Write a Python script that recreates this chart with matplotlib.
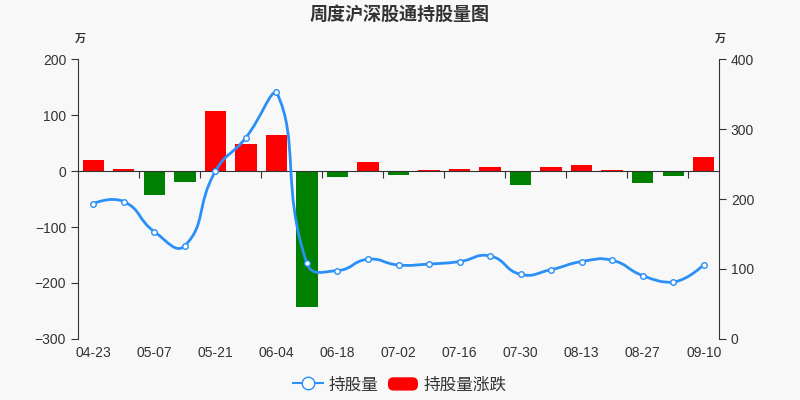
import numpy as np
import matplotlib.pyplot as plt
from matplotlib.path import Path
from matplotlib.patches import PathPatch, FancyBboxPatch
from matplotlib.lines import Line2D
from matplotlib.legend_handler import HandlerPatch

plt.rcParams['font.family'] = ['Noto Sans CJK SC', 'DejaVu Sans']

dates = ['04-23', '04-30', '05-07', '05-14', '05-21', '05-28', '06-04',
         '06-11', '06-18', '06-25', '07-02', '07-09', '07-16', '07-23',
         '07-30', '08-06', '08-13', '08-20', '08-27', '09-03', '09-10']
holding = [193.4, 196.3, 153.4, 133.4, 239.6, 287.7, 352.9, 108.1, 97.7,
           113.9, 105.7, 107.1, 110.6, 118.6, 92.4, 99.1, 110.6, 112.4,
           90.6, 81.0, 106.3]
change = [20, 3, -42, -19, 106.5, 47.6, 64.8, -243, -10, 16, -7, 1.5, 3.5,
          8, -25, 6.5, 10.5, 2.5, -21, -8.5, 25]
label_every = 2

BG = '#f8f8f8'
TXT = '#333333'
LINE = '#2a8ff7'
NUM_FONT = ['Liberation Sans', 'DejaVu Sans']


def smooth_path(xs, ys, sx, sy, smooth=0.5):
    # bezier smoothing, control points clamped to the bounding box of the line
    p = np.column_stack([np.asarray(xs, float) * sx, np.asarray(ys, float) * sy])
    n = len(p)
    lo, hi = p.min(axis=0), p.max(axis=0)
    verts = [p[0].copy()]
    codes = [Path.MOVETO]
    cp0 = p[0].copy()
    for k in range(1, n):
        cur = p[k]
        prev = p[k - 1]
        if k == n - 1:
            cp1 = cur.copy()
            v = np.zeros(2)
            r = 0.5
        else:
            nxt = p[k + 1]
            v = nxt - prev
            d0 = np.hypot(*(cur - prev))
            d1 = np.hypot(*(nxt - cur))
            r = d1 / (d0 + d1)
            cp1 = cur - v * smooth * (1 - r)
        cp0 = np.clip(cp0, lo, hi)
        cp1 = np.clip(cp1, lo, hi)
        verts += [cp0, cp1, cur.copy()]
        codes += [Path.CURVE4] * 3
        cp0 = cur + v * smooth * r
    verts = np.array(verts) / np.array([sx, sy])
    return Path(verts, codes)


fig = plt.figure(figsize=(8, 4), dpi=100, facecolor=BG)
ax = fig.add_axes([78 / 800, 61 / 400, 641 / 800, 280 / 400])
ax.set_facecolor(BG)
ax2 = ax.twinx()

x = np.arange(len(dates))
colors = ['#ff0000' if v >= 0 else '#008000' for v in change]
ax.bar(x, change, width=0.7, color=colors, zorder=2)
ax.set_xlim(-0.5, len(dates) - 0.5)
ax.set_ylim(-300, 200)
ax.set_yticks([-300, -200, -100, 0, 100, 200])
ax.set_yticklabels(['\u2212300', '\u2212200', '\u2212100', '0', '100', '200'],
                   family=NUM_FONT)

ax2.set_ylim(0, 400)
ax2.set_yticks([0, 100, 200, 300, 400])
ax2.set_yticklabels(['0', '100', '200', '300', '400'], family=NUM_FONT)
path = smooth_path(x, holding, 30.5, 0.7)
ax2.add_patch(PathPatch(path, facecolor='none', edgecolor=LINE, lw=2, zorder=3))
ax2.plot(x, holding, 'o', ms=4, mfc='white', mec=LINE, mew=1, zorder=4)

for a in (ax, ax2):
    for s in a.spines.values():
        s.set_visible(False)
ax.spines['left'].set_visible(True)
ax.spines['left'].set_color(TXT)
ax2.spines['right'].set_visible(True)
ax2.spines['right'].set_color(TXT)
ax.spines['bottom'].set_visible(True)
ax.spines['bottom'].set_position(('data', 0))
ax.spines['bottom'].set_color(TXT)

ax.set_xticks(np.arange(1.5, len(dates) - 1, 2))
ax.tick_params(axis='x', labelbottom=False, length=5, color=TXT, direction='out')
ax.tick_params(axis='y', length=5, color=TXT, labelcolor=TXT, labelsize=10)
ax2.tick_params(axis='y', length=5, color=TXT, labelcolor=TXT, labelsize=10)

sec = ax.secondary_xaxis('bottom')
sec.set_xticks(x[::label_every], dates[::label_every], family=NUM_FONT)
sec.tick_params(length=0, labelcolor=TXT, labelsize=10, pad=5)
for s in sec.spines.values():
    s.set_visible(False)

fig.text(0.5, 0.965, '周度沪深股通持股量图', ha='center', va='center',
         fontsize=13, fontweight='bold', color=TXT)
fig.text(80 / 800, 1 - 38 / 400, '万', ha='center', va='center', fontsize=8,
         fontweight='bold', color=TXT)
fig.text(720 / 800, 1 - 38 / 400, '万', ha='center', va='center', fontsize=8,
         fontweight='bold', color=TXT)


def make_rect(legend, orig_handle, xdescent, ydescent, width, height, fontsize):
    return FancyBboxPatch((-xdescent, -ydescent), width, height,
                          boxstyle='round,pad=0,rounding_size=4',
                          fc='#ff0000', ec='none')


line_h = Line2D([], [], color=LINE, lw=1.5, marker='o', ms=9, mfc='white',
                mec=LINE, mew=1)
rect_h = FancyBboxPatch((0, 0), 1, 1, fc='#ff0000', ec='none')
fig.legend([line_h, rect_h], ['持股量', '持股量涨跌'], loc='center',
           bbox_to_anchor=(0.5, 0.037), ncol=2, frameon=False, fontsize=12,
           handlelength=1.8, handleheight=0.85, columnspacing=0.55,
           handletextpad=0.35, labelcolor=TXT,
           handler_map={FancyBboxPatch: HandlerPatch(patch_func=make_rect)})

fig.savefig('out.png', dpi=100, facecolor=BG)
